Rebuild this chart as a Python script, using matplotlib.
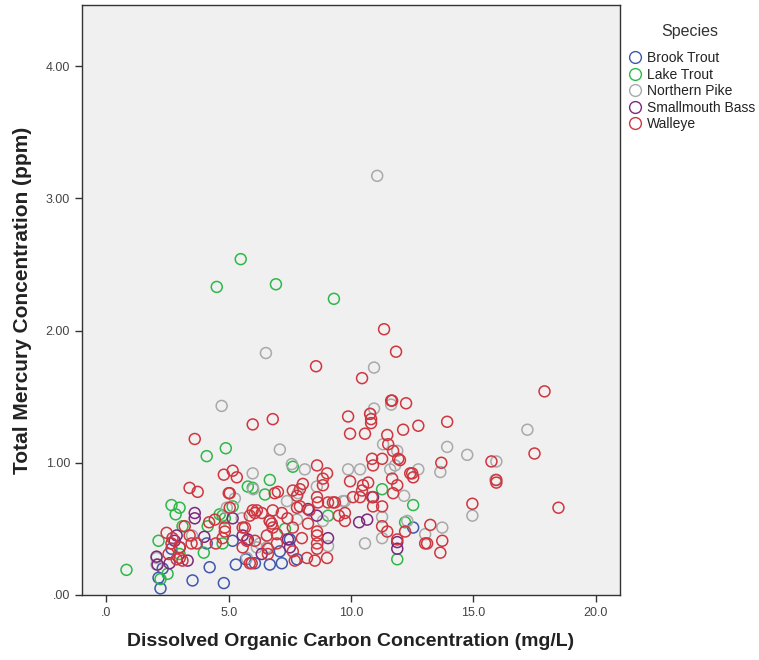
import matplotlib
matplotlib.use("Agg")
import matplotlib.pyplot as plt
from matplotlib.lines import Line2D

plt.rcParams['font.family'] = ['Liberation Sans', 'DejaVu Sans']

species = ['Brook Trout', 'Lake Trout', 'Northern Pike', 'Smallmouth Bass', 'Walleye']
colors = ['#3e58ac', '#2eb848', '#a9a9a9', '#7c287d', '#d0363f']

# dissolved organic carbon (mg/L) and total mercury (ppm) per fish
brook_doc = [2.21, 2.13, 2.30, 3.52, 4.80, 4.22, 5.29, 5.70, 6.07, 6.68, 7.17, 7.79, 7.09, 7.50,
             4.10, 12.54, 2.66, 5.16]
brook_hg = [0.05, 0.13, 0.20, 0.11, 0.09, 0.21, 0.23, 0.27, 0.24, 0.23, 0.24, 0.27, 0.33, 0.42,
            0.39, 0.51, 0.35, 0.41]

lake_doc = [0.82, 2.13, 2.50, 2.21, 2.66, 2.83, 2.99, 2.99, 3.11, 3.98, 4.14, 4.10, 4.63, 4.75,
            4.84, 4.88, 5.16, 4.75, 5.78, 5.98, 6.48, 6.68, 7.30, 7.62, 9.06, 11.27, 12.21, 12.54,
            11.89, 4.51, 5.49, 6.93, 9.30]
lake_hg = [0.19, 0.41, 0.16, 0.12, 0.68, 0.61, 0.66, 0.31, 0.52, 0.32, 0.52, 1.05, 0.61, 0.39,
           0.58, 1.11, 0.67, 0.60, 0.82, 0.81, 0.76, 0.87, 0.50, 0.97, 0.60, 0.80, 0.55, 0.68,
           0.27, 2.33, 2.54, 2.35, 2.24]

pike_doc = [11.07, 6.52, 10.94, 4.71, 10.94, 11.64, 10.78, 17.21, 13.93, 14.75, 15.94, 15.90,
            14.96, 13.65, 12.75, 13.73, 13.03, 12.17, 11.31, 11.89, 9.88, 10.37, 11.60, 11.80,
            9.75, 11.27, 11.27, 10.57, 12.30, 7.09, 5.98, 7.58, 8.11, 5.25, 7.38, 7.83, 8.85,
            9.06, 6.27, 6.56, 7.79, 9.67, 5.53, 4.92, 6.15, 5.74, 2.05, 2.05, 6.00, 8.60, 3.50]
pike_hg = [3.17, 1.83, 1.72, 1.43, 1.41, 1.44, 1.37, 1.25, 1.12, 1.06, 1.01, 0.87,
           0.60, 0.93, 0.95, 0.51, 0.46, 0.75, 1.14, 1.09, 0.95, 0.95, 0.95, 0.98,
           0.71, 0.59, 0.43, 0.39, 0.56, 1.10, 0.92, 0.99, 0.95, 0.73, 0.71, 0.77, 0.56,
           0.37, 0.39, 0.36, 0.57, 0.71, 0.58, 0.66, 0.36, 0.28, 0.28, 0.23, 0.80, 0.82, 0.45]

bass_doc = [3.61, 3.61, 2.87, 2.79, 2.58, 3.32, 2.05, 2.09, 5.16, 5.57, 5.78, 8.24, 8.60, 7.42,
            7.50, 6.35, 9.06, 6.68, 10.66, 10.33, 11.89, 11.89, 10.90, 4.00, 3.00]
bass_hg = [0.62, 0.58, 0.45, 0.41, 0.24, 0.26, 0.29, 0.23, 0.58, 0.45, 0.42, 0.65, 0.60, 0.42,
           0.36, 0.31, 0.43, 0.56, 0.57, 0.55, 0.35, 0.40, 0.74, 0.44, 0.36]

walleye_doc = [17.91, 13.93, 17.50, 15.74, 15.94, 15.94, 14.96, 18.48, 13.69, 12.25, 12.13, 12.75,
               12.50, 12.54, 13.24, 13.03, 13.73, 13.65, 12.00, 12.21, 11.35, 11.84, 8.57, 10.45,
               11.64, 5.98, 6.80, 9.88, 10.78, 10.82, 10.82, 3.61, 3.40, 3.73, 4.80, 5.16, 5.33,
               5.00, 5.98, 4.43, 4.84, 4.75, 4.47, 2.46, 2.66, 2.99, 3.48, 3.40, 3.11, 2.87, 5.57,
               5.86, 5.57, 6.07, 8.61, 9.02, 8.85, 8.85, 8.03, 7.91, 7.01, 6.88, 7.62, 7.79, 8.61,
               8.65, 9.06, 9.34, 5.04, 6.15, 6.35, 6.80, 7.17, 7.79, 7.91, 5.86, 6.68, 6.76, 6.80,
               7.62, 8.24, 8.61, 8.61, 8.61, 8.61, 5.66, 5.74, 6.07, 6.56, 6.97, 6.97, 7.99, 6.60,
               6.60, 7.62, 5.94, 7.70, 8.20, 8.52, 9.02, 5.04, 4.84, 10.57, 9.96, 11.68, 11.48,
               11.52, 11.72, 11.93, 10.86, 11.27, 10.90, 12.42, 9.96, 10.49, 10.70, 11.68, 11.89,
               10.45, 10.37, 10.08, 10.86, 10.90, 11.27, 11.72, 9.26, 9.75, 9.75, 11.27, 11.48,
               11.89, 13.11, 3.69, 2.54, 3.00, 2.70, 3.20, 4.20, 7.40, 8.30, 9.50]
walleye_hg = [1.54, 1.31, 1.07, 1.01, 0.85, 0.87, 0.69, 0.66, 1.00, 1.45, 1.25, 1.28,
              0.92, 0.89, 0.53, 0.39, 0.41, 0.32, 1.02, 0.48, 2.01, 1.84, 1.73, 1.64,
              1.47, 1.29, 1.33, 1.35, 1.37, 1.33, 1.30, 1.18, 0.81, 0.78, 0.91, 0.94, 0.89,
              0.77, 0.64, 0.57, 0.51, 0.43, 0.39, 0.47, 0.39, 0.36, 0.39, 0.45, 0.26, 0.27, 0.51,
              0.24, 0.36, 0.62, 0.98, 0.92, 0.88, 0.83, 0.84, 0.80, 0.78, 0.77, 0.79, 0.75, 0.74,
              0.70, 0.70, 0.70, 0.77, 0.64, 0.62, 0.64, 0.62, 0.66, 0.67, 0.60, 0.56, 0.54, 0.51,
              0.51, 0.54, 0.48, 0.45, 0.39, 0.35, 0.51, 0.41, 0.41, 0.45, 0.46, 0.39, 0.43, 0.35,
              0.31, 0.33, 0.24, 0.26, 0.28, 0.26, 0.28, 0.66, 0.48, 1.22, 1.22, 1.47, 1.21,
              1.14, 1.09, 1.03, 1.03, 1.03, 0.98, 0.92, 0.86, 0.83, 0.85, 0.88, 0.83,
              0.79, 0.74, 0.74, 0.74, 0.67, 0.67, 0.77, 0.70, 0.62, 0.56, 0.52, 0.48,
              0.42, 0.39, 0.39, 0.31, 0.28, 0.43, 0.52, 0.55, 0.58, 0.64, 0.60]

xs = [brook_doc, lake_doc, pike_doc, bass_doc, walleye_doc]
ys = [brook_hg, lake_hg, pike_hg, bass_hg, walleye_hg]

fig = plt.figure(figsize=(7.59, 6.60), dpi=100)
ax = fig.add_axes([0.108, 0.0985, 0.709, 0.8935])
ax.set_facecolor('#f0f0f0')

for x, y, c in zip(xs, ys, colors):
    ax.scatter(x, y, s=62, facecolors='none', edgecolors=c, linewidths=1.1)

ax.set_xlim(-1.0, 21.0)
ax.set_ylim(0, 4.46)
ax.set_xticks([0, 5, 10, 15, 20])
ax.set_xticklabels(['.0', '5.0', '10.0', '15.0', '20.0'])
ax.set_yticks([0, 1, 2, 3, 4])
ax.set_yticklabels(['.00', '1.00', '2.00', '3.00', '4.00'])
ax.tick_params(direction='out', length=5, width=1, colors='#333333', labelsize=9,
               labelcolor='#444444')
for sp in ax.spines.values():
    sp.set_color('#333333')
    sp.set_linewidth(1.0)

ax.set_xlabel('Dissolved Organic Carbon Concentration (mg/L)', fontsize=14, fontweight='bold',
              color='#222222', labelpad=10)
ax.set_ylabel('Total Mercury Concentration (ppm)', fontsize=15, fontweight='bold',
              color='#222222', labelpad=10)

handles = [Line2D([], [], linestyle='none', marker='o', markersize=8.5, markerfacecolor='none',
                  markeredgecolor=c, markeredgewidth=1.0) for c in colors]
leg = fig.legend(handles, species, title='Species', loc='upper left',
                 bbox_to_anchor=(0.808, 0.981), frameon=False, fontsize=10, title_fontsize=11.5,
                 handletextpad=0.0, labelspacing=0.18, handlelength=1.6, borderpad=0.3)
leg._legend_box.sep = 9
leg.get_title().set_color('#333333')
for t in leg.get_texts():
    t.set_color('#222222')

fig.savefig('out.png', dpi=100)
